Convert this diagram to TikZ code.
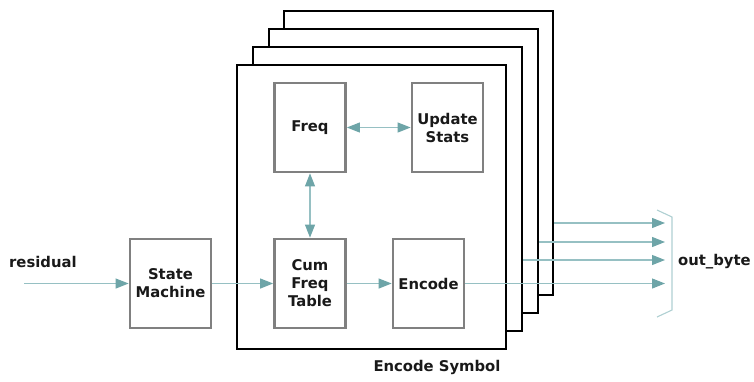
\documentclass[tikz,border=0pt]{standalone}
\usepackage{fontspec}
\setmainfont{DejaVu Sans}
\usetikzlibrary{arrows.meta}
\definecolor{teal1}{RGB}{110,165,168}
\definecolor{teal2}{RGB}{150,192,195}
\definecolor{bracketc}{RGB}{175,208,210}
\definecolor{boxgray}{RGB}{128,128,128}
\definecolor{txt}{RGB}{25,25,25}
\tikzset{
  frame/.style={draw=black, line width=2.4pt, fill=white, inner sep=0pt, minimum width=269pt, minimum height=284pt},
  blk/.style={draw=boxgray, line width=2.8pt, fill=white, inner sep=0pt, minimum width=71pt, minimum height=89pt, align=center, text=txt, font=\fontsize{14.8}{18}\selectfont\bfseries},
  lbl/.style={text=txt, font=\fontsize{14.8}{18}\selectfont\bfseries, inner sep=0pt},
  arr/.style={draw=teal2, line width=1.1pt, -{Triangle[length=13pt,width=10pt,color=teal1]}},
  darr/.style={draw=teal2, line width=1.1pt, {Triangle[length=13pt,width=10pt,color=teal1]}-{Triangle[length=13pt,width=10pt,color=teal1]}}
}
\begin{document}
\begin{tikzpicture}[x=1pt,y=-1pt]
\useasboundingbox (0,0) rectangle (754,381);
% stacked frames (back to front)
\node[frame] (f4) at (418.5,153) {};
\node[frame] (f3) at (403.5,171) {};
\node[frame] (f2) at (387.5,189) {};
\node[frame] (f1) at (371.5,207) {};
% blocks
\node[blk] (freq) at (310,127.5) {Freq};
\node[blk] (upd) at (447.5,127.5) {Update\\Stats};
\node[blk] (cum) at (310,283.5) {Cum\\Freq\\Table};
\node[blk] (enc) at (428.5,283.5) {Encode};
\node[blk, minimum width=81pt] (sm) at (170.5,283.5) {State\\Machine};
% labels
\node[lbl, anchor=west] (res) at (9,262) {residual};
\node[lbl, anchor=west] (ob) at (678,262) {out\_byte};
\node[lbl] (es) at (437,367) {Encode Symbol};
% coordinates
\coordinate (in) at (24,283.5);
\coordinate (o1) at (665,223);
\coordinate (o2) at (665,242);
\coordinate (o3) at (665,260);
\coordinate (o4) at (665,283.5);
\coordinate (b1) at (657,210);
\coordinate (b2) at (672,217);
\coordinate (b3) at (672,310);
\coordinate (b4) at (657,317);
% connectors
\draw[arr] (in) -- (sm.west);
\draw[arr] (sm.east) -- (cum.west);
\draw[arr] (cum.east) -- (enc.west);
\draw[darr] (freq.east) -- (upd.west);
\draw[darr] (freq.south) -- (cum.north);
\draw[arr] (enc.east) -- (o4);
\draw[arr] (f4.east |- o1) -- (o1);
\draw[arr] (f3.east |- o2) -- (o2);
\draw[arr] (f2.east |- o3) -- (o3);
% bracket
\draw[bracketc, line width=1.1pt] (b1) -- (b2) -- (b3) -- (b4);
\end{tikzpicture}
\end{document}
